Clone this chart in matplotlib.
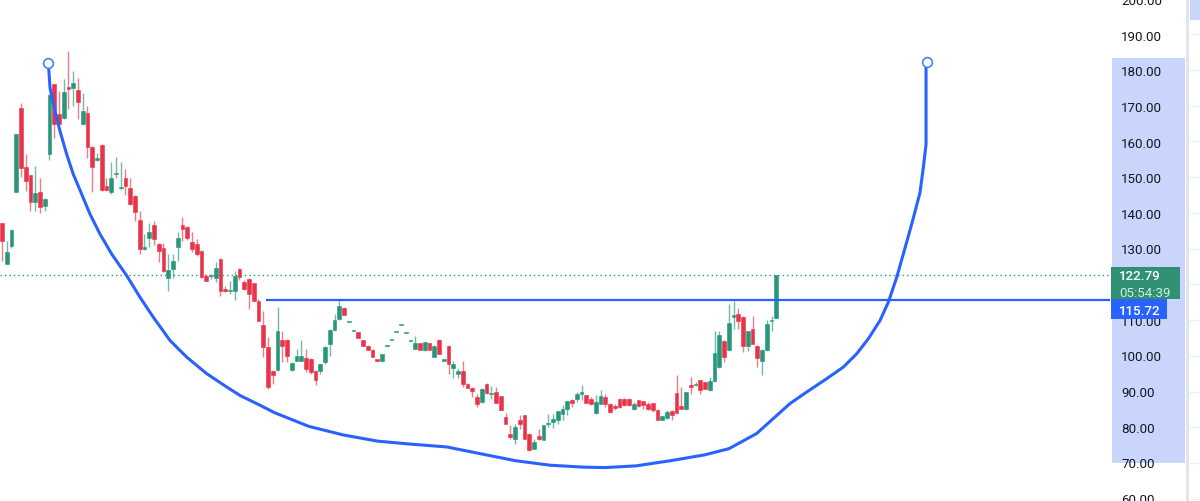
#cup and handle style candlestick chart, tradingview look

import numpy as np
import matplotlib.pyplot as plt
import matplotlib.transforms as mtransforms
from matplotlib.patches import Rectangle

plt.rcParams['font.family'] = ['Roboto', 'DejaVu Sans']

#candles (open, high, low, close)
ohlc = [
    (137.3, 137.5, 126.8, 132.4), (125.9, 132.4, 125.9, 129.2), (131.0, 135.6, 130.5, 135.4),
    (146.2, 162.5, 146.0, 162.3), (169.7, 171.1, 150.2, 152.8), (153.0, 156.7, 146.4, 149.2),
    (150.8, 151.0, 140.8, 143.3), (143.3, 153.4, 140.8, 145.8), (146.0, 149.9, 140.2, 142.0),
    (142.2, 144.4, 140.8, 144.2), (156.9, 173.5, 155.1, 173.3), (176.3, 176.5, 161.3, 165.1),
    (168.1, 174.4, 165.0, 165.1), (166.8, 177.7, 166.5, 174.1), (175.6, 185.8, 169.3, 175.1),
    (175.3, 180.0, 170.2, 176.6), (174.6, 178.0, 166.5, 171.4), (165.1, 173.9, 164.9, 168.8),
    (168.3, 170.2, 155.6, 158.7), (158.7, 158.9, 146.0, 153.1), (155.0, 157.0, 154.8, 155.6),
    (159.3, 159.5, 146.4, 146.7), (147.8, 150.1, 146.5, 146.7), (146.0, 154.6, 145.5, 149.9),
    (151.1, 155.8, 150.0, 151.2), (147.2, 154.6, 146.7, 147.3), (149.9, 152.5, 145.3, 147.8),
    (147.1, 150.1, 142.5, 142.7), (145.0, 145.2, 138.0, 140.6), (138.3, 140.8, 128.7, 130.1),
    (130.1, 134.3, 129.9, 130.7), (133.2, 137.3, 130.6, 135.0), (136.9, 138.0, 131.3, 132.9),
    (131.5, 131.9, 126.4, 129.6), (130.4, 131.9, 123.6, 123.8), (122.0, 128.7, 118.4, 124.2),
    (124.5, 128.7, 122.0, 126.8), (130.6, 135.0, 126.8, 133.2), (136.9, 139.2, 132.4, 135.7),
    (136.3, 136.6, 132.5, 133.2), (132.0, 134.8, 129.2, 130.1), (131.5, 132.8, 128.2, 128.7),
    (129.6, 129.8, 121.9, 122.2), (122.6, 123.0, 121.0, 121.2), (122.6, 123.0, 121.8, 122.7),
    (122.0, 126.4, 120.8, 124.8), (127.3, 127.5, 117.0, 118.4), (118.9, 119.8, 118.0, 118.4),
    (118.2, 121.2, 117.5, 118.3), (118.2, 124.0, 115.7, 122.6), (124.5, 124.7, 121.5, 122.2),
    (120.8, 121.5, 118.6, 118.9), (121.7, 121.9, 113.3, 117.5), (120.5, 120.7, 115.4, 115.6),
    (115.6, 116.0, 109.8, 110.0), (108.8, 112.8, 99.8, 102.6), (102.6, 105.4, 90.9, 91.4),
    (96.0, 96.2, 92.1, 94.6), (96.2, 113.8, 96.0, 107.2), (104.6, 107.2, 98.4, 102.8),
    (104.6, 104.8, 98.4, 100.0), (96.2, 98.3, 96.0, 98.1), (98.8, 102.1, 98.6, 100.1),
    (98.8, 104.6, 98.6, 100.0), (99.6, 102.1, 95.6, 96.5), (99.3, 99.5, 95.1, 95.6),
    (95.9, 96.1, 91.8, 93.4), (96.0, 97.9, 95.1, 97.7), (98.4, 102.8, 97.9, 102.6),
    (103.5, 107.6, 100.0, 107.4), (107.4, 111.9, 107.2, 110.2), (110.5, 115.8, 110.3, 114.2),
    (113.6, 113.8, 111.5, 111.7), (109.6, 109.7, 109.5, 109.6), (107.2, 107.3, 107.1, 107.2),
    (106.8, 106.9, 105.1, 105.2), (104.6, 104.7, 102.9, 103.0), (103.0, 103.1, 101.7, 101.8),
    (101.8, 101.9, 99.7, 99.8), (98.9, 98.9, 98.7, 98.8), (98.6, 100.6, 98.5, 100.5),
    (102.8, 102.9, 102.7, 102.8), (104.6, 104.7, 104.5, 104.6), (106.8, 106.9, 106.7, 106.8),
    (108.8, 108.9, 108.7, 108.8), (106.5, 106.6, 106.4, 106.5), (104.4, 104.5, 104.3, 104.4),
    (102.1, 105.8, 102.0, 103.7), (103.7, 103.8, 101.7, 101.8), (101.8, 104.1, 101.6, 104.0),
    (103.7, 103.8, 101.7, 101.8), (99.8, 103.1, 99.7, 103.0), (104.6, 104.8, 100.5, 100.7),
    (98.8, 98.9, 98.7, 98.8), (103.0, 103.1, 94.9, 97.9), (96.8, 98.8, 94.0, 97.9),
    (95.1, 96.8, 94.0, 95.9), (96.0, 98.8, 91.4, 92.3), (92.3, 92.4, 91.1, 91.2),
    (91.2, 91.3, 88.6, 90.3), (88.6, 89.5, 85.8, 86.5), (87.2, 91.0, 87.0, 90.9),
    (92.1, 92.4, 89.5, 89.7), (89.5, 91.6, 88.1, 89.6), (90.0, 91.4, 86.8, 86.9),
    (88.8, 88.9, 84.8, 85.0), (83.0, 84.1, 81.0, 81.1), (78.1, 80.6, 76.9, 77.4),
    (76.9, 81.1, 75.3, 80.2), (82.2, 83.4, 79.7, 81.1), (83.4, 83.5, 76.8, 76.9),
    (78.3, 78.4, 73.4, 73.6), (74.1, 76.9, 73.9, 76.0), (77.7, 79.7, 76.4, 76.9),
    (76.6, 80.7, 76.5, 80.6), (81.1, 83.9, 80.2, 81.4), (81.6, 83.7, 80.0, 82.3),
    (82.0, 84.7, 81.1, 84.6), (83.7, 86.2, 82.2, 85.3), (85.3, 87.5, 83.4, 87.4),
    (87.8, 87.9, 85.8, 87.0), (88.1, 90.0, 87.2, 89.5), (89.3, 91.8, 87.8, 90.0),
    (89.0, 89.1, 86.8, 86.9), (88.1, 88.6, 86.2, 86.5), (84.1, 89.0, 83.9, 87.2),
    (86.7, 90.6, 86.6, 88.8), (88.6, 89.5, 85.8, 86.5), (86.7, 86.8, 84.1, 84.4),
    (86.0, 86.7, 85.0, 85.6), (88.1, 88.2, 85.4, 85.8), (88.1, 88.2, 86.1, 86.2),
    (88.1, 88.2, 86.1, 86.2), (85.3, 87.2, 85.0, 86.7), (87.6, 87.7, 85.8, 85.9),
    (87.4, 87.5, 85.3, 86.2), (86.7, 87.2, 84.8, 85.3), (86.9, 87.0, 84.4, 84.8),
    (85.0, 85.1, 82.0, 82.0), (82.2, 83.3, 82.0, 83.2), (82.8, 84.8, 82.5, 84.4),
    (84.6, 84.8, 82.0, 83.4), (89.7, 94.6, 84.0, 84.1), (86.0, 91.4, 85.2, 85.3),
    (85.3, 90.1, 84.8, 90.0), (91.8, 94.2, 89.5, 91.4), (91.9, 92.8, 91.6, 92.0),
    (93.2, 93.3, 89.5, 90.6), (92.8, 92.9, 90.8, 90.9), (90.4, 94.2, 90.2, 93.0),
    (93.0, 107.0, 92.8, 100.9), (97.0, 107.2, 96.8, 106.1), (104.4, 104.6, 98.4, 99.9),
    (101.8, 114.7, 101.6, 109.3), (110.9, 115.6, 107.7, 111.7), (111.9, 113.6, 107.7, 109.8),
    (111.1, 111.2, 101.2, 103.0), (103.0, 107.1, 101.6, 107.0), (107.7, 111.4, 103.4, 103.5),
    (103.0, 103.1, 97.0, 99.6), (98.8, 101.9, 94.6, 101.8), (101.8, 110.2, 101.6, 109.1),
    (109.8, 111.4, 107.0, 110.2), (110.8, 122.79, 110.6, 122.79),
]

#cup drawing path (bar index, price), first and last are the anchor handles
cup_x = [9.75, 9.85, 10.11, 11.16, 12.21, 13.62, 15.01, 16.78, 18.53, 20.63, 23.09, 26.25,
         29.05, 31.85, 35.37, 38.88, 43.09, 47.31, 50.11, 54.32, 57.35, 64.61, 71.85, 79.09,
         86.36, 93.6, 100.84, 108.11, 115.35, 122.61, 126.95, 133.47, 140.72, 147.98,
         153.05, 155.37, 158.88, 162.38, 165.89, 169.41, 173.62, 177.12, 179.94, 182.38,
         184.84, 186.59, 188.36, 189.75, 191.52, 193.26, 193.96, 194.53, 194.53, 194.53,
         194.67]
cup_y = [182.32, 180.56, 175.33, 168.8, 163.21, 156.69, 151.09, 145.49, 139.89, 134.3,
         128.7, 122.63, 116.56, 110.96, 104.44, 99.76, 95.12, 91.37, 88.99, 86.25, 84.18,
         80.31, 77.91, 76.17, 75.3, 74.55, 72.61, 70.68, 69.42, 68.86, 68.75, 69.23, 70.68,
         72.33, 74.07, 75.75, 78.32, 82.52, 86.72, 89.96, 93.71, 96.96, 100.71, 104.91,
         110.03, 115.15, 122.15, 128.7, 137.1, 145.94, 152.94, 159.49, 163.21, 180.92,
         182.6]

last_price = 122.79
countdown = '05:54:39'
level = 115.72
level_start = 55.6
band_lo, band_hi = 70.0, 183.6
yticks = list(range(60, 201, 10))

green = '#27967a'
red = '#e8344a'
blue = '#2962FF'

data = np.array(ohlc)
o, h, l, c = data[:, 0], data[:, 1], data[:, 2], data[:, 3]
idx = np.arange(len(data))
up = c >= o
cols = np.where(up, green, red)

fig = plt.figure(figsize=(12, 5.01), dpi=100)
ax = fig.add_axes([0, 0, 1110 / 1200, 1])
ax.set_xlim(-0.42, 233.26)
ax.set_ylim(59.37, 199.59)

#wicks and bodies
ax.vlines(idx, l, h, colors=cols, lw=1, alpha=0.65, zorder=2)
body = np.maximum(np.abs(c - o), 0.3)
ax.bar(idx, body, bottom=np.minimum(o, c), width=0.8, color=cols, edgecolor=cols,
       lw=0.4, zorder=3)

#last price dotted line
ax.axhline(last_price, color=green, lw=1, ls=(0, (1, 2.2)), zorder=1)

#horizontal level
ax.hlines(level, level_start, 233.26, color=blue, lw=1.6, zorder=4)

#cup drawing
ax.plot(cup_x[1:-1], cup_y[1:-1], color=blue, lw=2.2, solid_capstyle='round',
        solid_joinstyle='round', zorder=5)
ax.plot([cup_x[0], cup_x[-1]], [cup_y[0], cup_y[-1]], 'o', ms=7, mfc='white',
        mec='#4f7dff', mew=1.2, zorder=6)

#price scale
for s in ax.spines.values():
    s.set_visible(False)
ax.set_xticks([])
ax.set_yticks(yticks)
ax.set_yticklabels(['%.2f' % v for v in yticks])
ax.yaxis.tick_right()
ax.tick_params(axis='y', length=0, pad=8, labelsize=9.6, labelcolor='#131722')

px = 1 / 1110
unit = (199.59 - 59.37) / 501
tr = mtransforms.blended_transform_factory(ax.transAxes, ax.transData)
ax.add_patch(Rectangle((1 + 2 * px, band_lo), 73 * px, band_hi - band_lo, transform=tr,
                       color='#c9d5fb', lw=0, clip_on=False, zorder=0.5))

#price tags
ax.add_patch(Rectangle((1 + 1 * px, last_price - 24.5 * unit), 69 * px, 33 * unit,
                       transform=tr, color='#2f9171', lw=0, clip_on=False, zorder=7))
ax.text(1 + 9 * px, last_price - 5 * unit, '%.2f' % last_price, transform=tr, color='white',
        fontsize=9.6, fontweight='medium', va='baseline', ha='left', zorder=8, clip_on=False)
ax.text(1 + 9 * px, last_price - 21.5 * unit, countdown, transform=tr, color='#cdeee2',
        fontsize=9.6, va='baseline', ha='left', zorder=8, clip_on=False)
ax.add_patch(Rectangle((1 + 1 * px, level - 19 * unit), 56 * px, 20 * unit,
                       transform=tr, color=blue, lw=0, clip_on=False, zorder=7))
ax.text(1 + 9 * px, level - 15 * unit, '%.2f' % level, transform=tr, color='white',
        fontsize=9.6, fontweight='medium', va='baseline', ha='left', zorder=8, clip_on=False)

#far right strip
ax2 = fig.add_axes([1186 / 1200, 0, 14 / 1200, 1])
ax2.set_ylim(59.37, 199.59)
ax2.set_xlim(0, 1)
ax2.axvline(0.05, color='#e0e3eb', lw=2)
ax2.axhspan(194.0, 199.59, xmin=0.25, color='#c9d5fb', lw=0)
for v in yticks:
    ax2.axhline(v, xmin=0.25, color='#eef0f4', lw=1)
ax2.axis('off')

fig.savefig('out.png', dpi=100)
